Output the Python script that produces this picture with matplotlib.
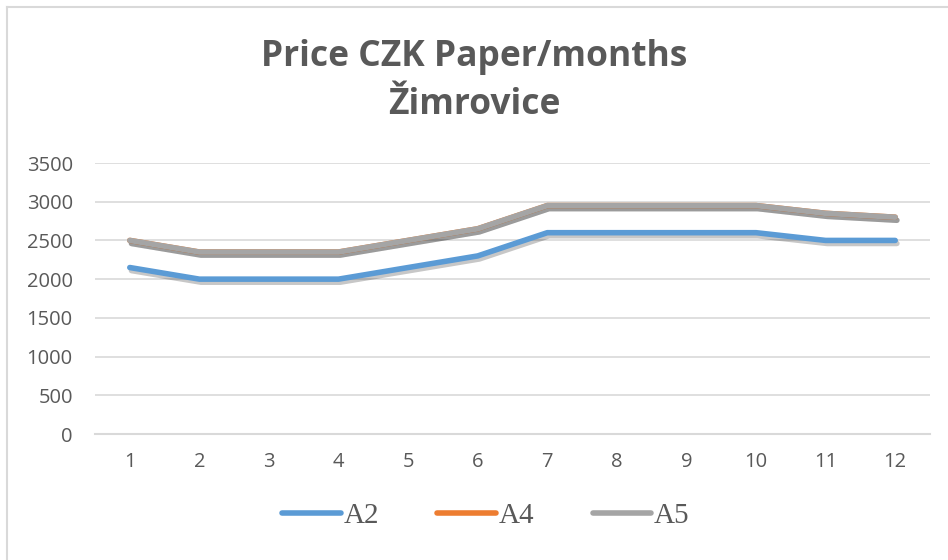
import matplotlib
matplotlib.use("Agg")
import matplotlib.pyplot as plt
from matplotlib.lines import Line2D
import matplotlib.patheffects as pe

months = [1, 2, 3, 4, 5, 6, 7, 8, 9, 10, 11, 12]
month_labels = [str(m) for m in months]
a2 = [2150, 2000, 2000, 2000, 2150, 2300, 2600, 2600, 2600, 2600, 2500, 2500]
a4 = [2500, 2350, 2350, 2350, 2500, 2650, 2950, 2950, 2950, 2950, 2850, 2800]
a5 = [2500, 2350, 2350, 2350, 2500, 2650, 2950, 2950, 2950, 2950, 2850, 2800]
y_ticks = [0, 500, 1000, 1500, 2000, 2500, 3000, 3500]
series_names = ["A2", "A4", "A5"]
colors = ["#5B9BD5", "#ED7D31", "#A5A5A5"]

fig = plt.figure(figsize=(9.48, 5.6), dpi=100)
fig.patch.set_facecolor("white")

# outer chart border (top & left visible)
fig.add_artist(Line2D([6.5/948, 6.5/948], [0, 1 - 6.5/560], color="#D9D9D9", lw=1.5, transform=fig.transFigure))
fig.add_artist(Line2D([6.5/948, 1], [1 - 6.5/560, 1 - 6.5/560], color="#D9D9D9", lw=1.5, transform=fig.transFigure))

ax = fig.add_axes([95/948, 1 - 434/560, (930 - 95)/948, (434 - 163)/560])
ax.set_xlim(0.5, 12.5)
ax.set_ylim(0, 3500)
ax.set_yticks(y_ticks)
ax.set_yticklabels([str(v) for v in y_ticks])
ax.set_xticks(months)
ax.set_xticklabels(month_labels)
ax.grid(axis="y", color="#D9D9D9", lw=1.2)
ax.set_axisbelow(True)
for s in ["top", "right", "left"]:
    ax.spines[s].set_visible(False)
ax.spines["bottom"].set_color("#D9D9D9")
ax.spines["bottom"].set_linewidth(1.5)
ax.tick_params(length=0, labelsize=14.5, labelcolor="#595959")
for lab in ax.get_xticklabels() + ax.get_yticklabels():
    lab.set_fontfamily("Open Sans")
ax.tick_params(axis="x", pad=13)
ax.tick_params(axis="y", pad=16)

shadow = [pe.SimpleLineShadow(offset=(1.2, -2.2), shadow_color="black", alpha=0.22), pe.Normal()]
for vals, name, c in zip([a2, a4, a5], series_names, colors):
    ax.plot(months, vals, color=c, lw=4, solid_capstyle="round", solid_joinstyle="round",
            label=name, path_effects=shadow)

fig.text(0.5, 1 - 81/560, "Price CZK Paper/months\nŽimrovice", ha="center", va="center",
         fontsize=25.5, fontweight="bold", color="#595959", family="Open Sans", linespacing=1.45)

handles = [Line2D([], [], color=c, lw=4, solid_capstyle="round") for c in colors]
leg = fig.legend(handles, series_names, loc="center", bbox_to_anchor=(486/948, 1 - 516/560),
                 ncol=3, frameon=False, handlelength=2.0, handletextpad=0.1, columnspacing=2.0,
                 prop={"family": "Liberation Serif", "size": 21})
for t in leg.get_texts():
    t.set_color("#595959")

fig.savefig("out.png", dpi=100, facecolor="white")
